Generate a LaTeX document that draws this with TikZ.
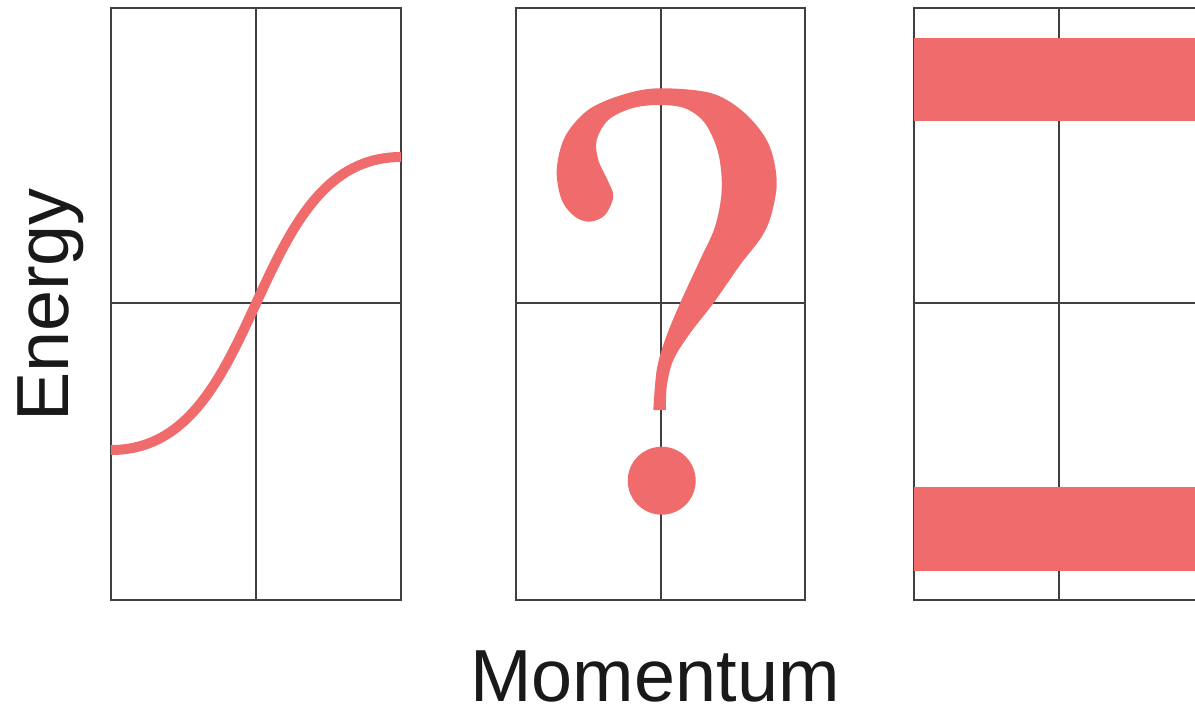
\documentclass[tikz,border=0pt]{standalone}
\usepackage{fontspec}
\newfontfamily\labelfont{Liberation Sans}
\definecolor{accent}{HTML}{F06C6C}
\definecolor{gridc}{HTML}{404040}
\begin{document}
\begin{tikzpicture}[x=0.02cm,y=-0.02cm,
  gridline/.style={draw=gridc,line width=0.85pt},
  curveline/.style={draw=accent,line width=0.2cm},
  bandbox/.style={fill=accent,draw=none},
  qshape/.style={fill=accent,draw=none},
  axislabel/.style={font=\labelfont\fontsize{42}{42}\selectfont,text=black!90,inner sep=0pt,text depth=0pt}]
\useasboundingbox (0,0) rectangle (1195,709);
\clip (0,0) rectangle (1195,709);
% panel 1
\draw[gridline] (111,8) rectangle (401,600);
\draw[gridline] (256,8) -- (256,600) (111,303) -- (401,303);
\draw[curveline] (111,450) .. controls (266,450) and (246,157) .. (401,157);
% panel 2
\draw[gridline] (516,8) rectangle (805,600);
\draw[gridline] (661,8) -- (661,600) (516,303) -- (805,303);
\fill[qshape] plot[smooth, tension=0.55] coordinates {
  (653.3,410) (656.7,370) (665,340) (680,303.3) (700,260) (715,226.7)
  (721.7,190) (718.3,153.3) (705,123.3) (685,108.3) (658.3,105)
  (631.7,108.3) (608.3,120) (596.7,140) (598.3,160) (608.3,181.7)
  (613.3,196.7) (605,215) (590,221.7) (575,216.7) (561.7,200)
  (556.7,170) (565,136.7) (588,110) (621.7,95) (658.3,88.3) (711.7,93.3)
  (745,113.3) (768.3,143.3) (776.7,180) (771.7,213.3) (761.7,236.7)
  (740,265) (713.3,303.3) (690,333.3) (673.3,360) (666.7,386.7) (666,410)}
  -- cycle;
\fill[qshape] (661.7,480.7) circle [radius=0.68cm];
% panel 3
\draw[gridline] (914,8) rectangle (1210,600);
\draw[gridline] (1059,8) -- (1059,600) (914,303) -- (1210,303);
\fill[bandbox] (914,38) rectangle (1200,121);
\fill[bandbox] (914,487) rectangle (1200,571);
% labels
\node[axislabel,rotate=90,anchor=base] (energy) at (68,305) {Energy};
\node[axislabel,anchor=base] (momentum) at (655,701) {Momentum};
\end{tikzpicture}
\end{document}
